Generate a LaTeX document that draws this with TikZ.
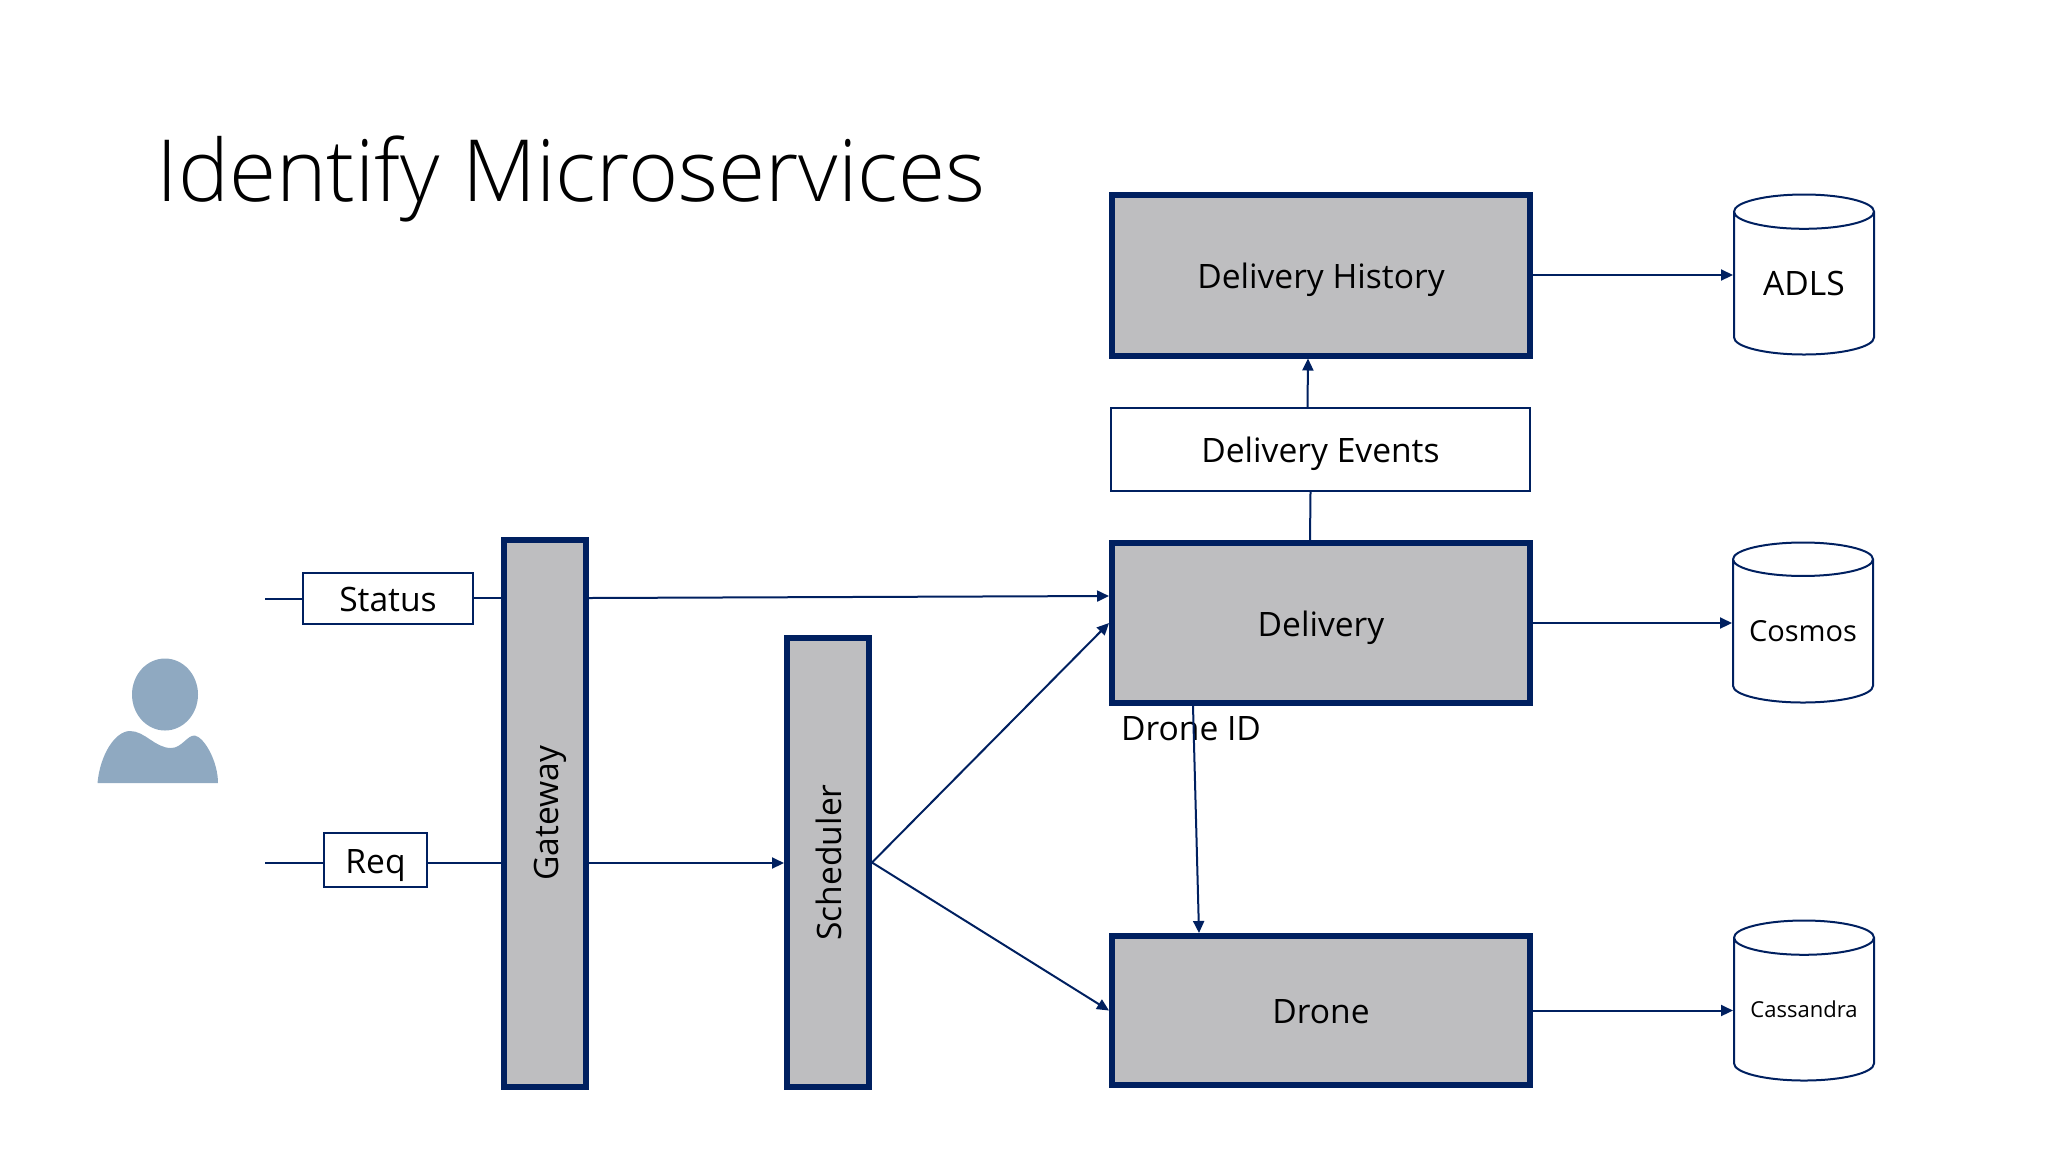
\documentclass[tikz,border=0pt]{standalone}
\usepackage{fontspec}
\setmainfont{Open Sans}
\newfontfamily\titlefont{Open Sans Light}
\usepackage{tikz}
\usetikzlibrary{arrows.meta, shapes.geometric}
\definecolor{navy}{HTML}{002060}
\definecolor{svcgray}{HTML}{BEBEC0}
\definecolor{personblue}{HTML}{8FA9C1}
\newcommand{\sidelabel}[1]{\rotatebox{90}{\raisebox{0pt}[13.2pt][0pt]{#1}}}

\begin{document}
\begin{tikzpicture}[
            x = 0.5pt, y = -0.5pt, % one unit is one pixel of the slide
            > = {Triangle[length = 6pt, width = 5.5pt]}, % arrow head style
            font = \fontsize{16.8}{20}\selectfont,
            every edge/.style = {draw = navy, line width = 1pt}
        ]

        \tikzstyle{service}=[
            draw = navy,
            line width = 3pt,
            fill = svcgray,
            rectangle,
            inner sep = 0pt
        ]
        \tikzstyle{message}=[
            draw = navy,
            line width = 1pt,
            fill = white,
            rectangle,
            inner sep = 0pt
        ]
        \tikzstyle{store}=[
            draw = navy,
            line width = 1pt,
            fill = white,
            cylinder,
            shape border rotate = 90,
            minimum width = 70pt,
            minimum height = 80pt,
            inner sep = 0pt,
            anchor = shape center
        ]
        \tikzstyle{flat}=[
            text height = 13pt,
            text depth = 0pt
        ]

        \useasboundingbox (0,0) rectangle (2048,1152);

        % title
        \node (title) [anchor = west, inner sep = 0pt, font = \fontsize{42.9}{50}\titlefont] at (156,179) {Identify Microservices};

        % user
        \fill[personblue] (165,694.5) ellipse [x radius = 33, y radius = 36];
        \fill[personblue] (97.5,783) .. controls (100,755) and (115,731) .. (130,731)
            .. controls (145,731) and (155,748) .. (171,748)
            .. controls (182,748) and (187,735) .. (195,735.5)
            .. controls (205,738) and (218,762) .. (218,783) -- cycle;

        % services
        \node[service, minimum width = 41pt, minimum height = 273.5pt] (gateway) at (545,813.5) {\sidelabel{Gateway}};
        \node[service, minimum width = 41pt, minimum height = 224.5pt] (scheduler) at (828,862.5) {\sidelabel{Scheduler}};
        \node[service, flat, minimum width = 209pt, minimum height = 80.5pt] (history) at (1321,275) {Delivery History};
        \node[service, flat, minimum width = 209pt, minimum height = 80pt] (delivery) at (1321,623) {Delivery};
        \node[service, flat, minimum width = 209pt, minimum height = 74.5pt] (drone) at (1321,1010.5) {Drone};

        % queues and messages
        \node[message, flat, minimum width = 209.5pt, minimum height = 41.5pt] (events) at (1320.5,449.5) {Delivery Events};
        \node[message, flat, minimum width = 85pt, minimum height = 25.5pt] (status) at (388,598) {Status};
        \node[message, flat, minimum width = 51.5pt, minimum height = 27pt] (req) at (375.5,860) {Req};
        \node[flat, inner sep = 0pt] (droneid) at (1191,727) {Drone ID};

        % stores
        \node[store, shape aspect = 0.42] (adls) at (1804,274.5) {ADLS};
        \node[store, shape aspect = 0.31, font = \fontsize{14.5}{18}\selectfont] (cosmos) at (1803,622.5) {Cosmos};
        \node[store, shape aspect = 0.32, font = \fontsize{11}{13}\selectfont] (cassandra) at (1804,1000.5) {Cassandra};

        % free ends on the user side
        \coordinate (statusin) at (265,599);
        \coordinate (reqin) at (265,863);

        \path (statusin) edge (statusin -| status.west);
        \path (status.east) edge (status.east -| gateway.west);
        \path (reqin) edge (reqin -| req.west);
        \path (reqin -| req.east) edge (reqin -| gateway.west);

        \path[->] (status.east -| gateway.east) edge ([yshift = 13.5pt]delivery.west);
        \path[->] (reqin -| gateway.east) edge (reqin -| scheduler.west);
        \path[->] (scheduler.east) edge (delivery.west);
        \path[->] (scheduler.east) edge (drone.west);

        \path ([xshift = -5.5pt]delivery.north) edge ([xshift = -5pt]events.south);
        \path[->] ([xshift = -6.5pt]events.north) edge ([xshift = -6.5pt]history.south);
        \path[->] ([xshift = -64pt]delivery.south) edge ([xshift = -61pt]drone.north);

        \path[->] (history.east) edge (history.east -| adls.west);
        \path[->] (delivery.east) edge (delivery.east -| cosmos.west);
        \path[->] (drone.east) edge (drone.east -| cassandra.west);

\end{tikzpicture}
\end{document}
